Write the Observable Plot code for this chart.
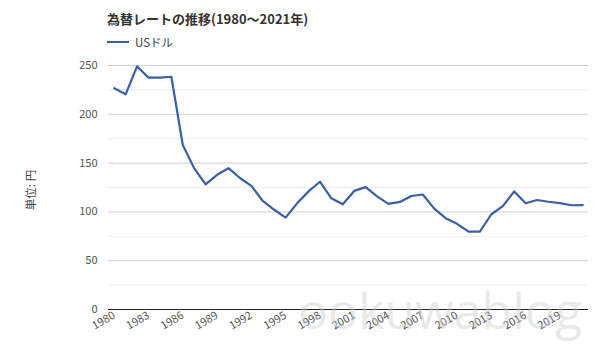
<!DOCTYPE html>
<html><head><meta charset="utf-8">
<script src="https://cdn.jsdelivr.net/npm/d3@7"></script>
<script src="https://cdn.jsdelivr.net/npm/@observablehq/plot@0.6"></script>
<style>
body{margin:0;background:#fff;font-family:"Noto Sans CJK JP","Noto Sans",sans-serif;}
#wrap{position:relative;width:600px;height:360px;overflow:hidden;}
#title{position:absolute;left:107px;top:9px;font-size:13px;font-weight:bold;color:#333;}
#legend{position:absolute;left:107px;top:34px;font-size:11.5px;color:#444;display:flex;align-items:center;}
#legend span.sw{display:inline-block;width:22px;height:2px;background:#3b5fa6;margin-right:6px;}
#ylab{position:absolute;left:30px;top:190px;transform:translate(-50%,-50%) rotate(-90deg);font-size:11.5px;color:#444;white-space:nowrap;}
#wm{position:absolute;left:298px;top:276px;font-family:"Open Sans",sans-serif;font-size:50px;color:rgba(200,200,200,0.4);pointer-events:none;}
#chart{position:absolute;left:0;top:0;}
</style></head>
<body><div id="wrap"><div id="chart"></div>
<div id="title">為替レートの推移(1980～2021年)</div>
<div id="legend"><span class="sw"></span>USドル</div>
<div id="ylab">単位: 円</div>
<div id="wm">ookuwablog</div>
</div>
<script>
const years = [1980,1981,1982,1983,1984,1985,1986,1987,1988,1989,1990,1991,1992,1993,1994,1995,1996,1997,1998,1999,2000,2001,2002,2003,2004,2005,2006,2007,2008,2009,2010,2011,2012,2013,2014,2015,2016,2017,2018,2019,2020,2021];
const usd = [226.7,220.5,249.1,237.5,237.5,238.5,168.5,144.6,128.2,138.0,144.8,134.7,126.7,111.2,102.2,94.1,108.8,121.0,130.9,113.9,107.8,121.5,125.4,115.9,108.2,110.2,116.3,117.8,103.4,93.6,87.8,79.8,79.8,97.6,105.9,121.0,108.8,112.2,110.4,109.0,106.8,107.0];
const xTicks = [1980,1983,1986,1989,1992,1995,1998,2001,2004,2007,2010,2013,2016,2019];
const yMajor = [50,100,150,200,250];
const yMinor = [25,75,125,175,225];
const data = years.map((y,i)=>({year:y, value:usd[i]}));
const chart = Plot.plot({
  width:600, height:360,
  marginLeft:108, marginRight:12, marginTop:65, marginBottom:51,
  style:{fontFamily:'"Noto Sans CJK JP","Noto Sans",sans-serif', fontSize:"11px", color:"#555", background:"transparent"},
  x:{domain:[1979.5,2021.5], axis:null, label:null},
  y:{domain:[0,250], axis:null, label:null},
  marks:[
    Plot.ruleY(yMinor,{stroke:"#ececec"}),
    Plot.ruleY(yMajor,{stroke:"#d0d0d0"}),
    Plot.ruleY([0],{stroke:"#222"}),
    Plot.axisY([0,...yMajor],{tickSize:0, tickPadding:11, fontSize:11, fill:"#555", label:null}),
    Plot.axisX(xTicks,{tickSize:0, tickFormat:d=>String(d), tickRotate:-30, tickPadding:5, fontSize:11, fill:"#555", label:null}),
    Plot.line(data,{x:"year", y:"value", stroke:"#3b5fa6", strokeWidth:2.2})
  ]
});
document.getElementById("chart").appendChild(chart);
</script>
</body></html>
